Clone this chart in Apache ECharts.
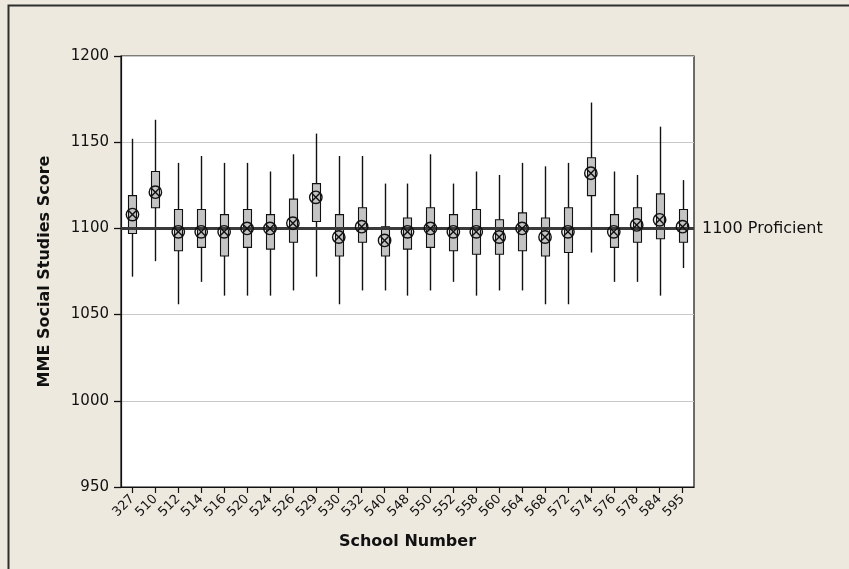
<!DOCTYPE html>
<html>
<head>
<meta charset="utf-8">
<script src="https://cdn.jsdelivr.net/npm/echarts@6/dist/echarts.min.js"></script>
<style>
  html, body { margin: 0; padding: 0; background: #ede9df; }
  #chart { width: 849px; height: 569px; }
</style>
</head>
<body>
<div id="chart"></div>
<script>
// School numbers along the horizontal axis
const schools = ['327','510','512','514','516','520','524','526','529','530','532','540','548',
                 '550','552','558','560','564','568','572','574','576','578','584','595'];

// Whisker ends, box edges and means of the MME Social Studies scores per school
const whiskerLow = [1072,1081,1056,1069,1061,1061,1061,1064,1072,1056,1064,1064,1061,
                    1064,1069,1061,1064,1064,1056,1056,1086,1069,1069,1061,1077];
const boxLow     = [1097,1112,1087,1089,1084,1089,1088,1092,1104,1084,1092,1084,1088,
                    1089,1087,1085,1085,1087,1084,1086,1119,1089,1092,1094,1092];
const boxHigh    = [1119,1133,1111,1111,1108,1111,1108,1117,1126,1108,1112,1101,1106,
                    1112,1108,1111,1105,1109,1106,1112,1141,1108,1112,1120,1111];
const whiskerHigh= [1152,1163,1138,1142,1138,1138,1133,1143,1155,1142,1142,1126,1126,
                    1143,1126,1133,1131,1138,1136,1138,1173,1133,1131,1159,1128];
const means      = [1108,1121,1098,1098,1098,1100,1100,1103,1118,1095,1101,1093,1098,
                    1100,1098,1098,1095,1100,1095,1098,1132,1098,1102,1105,1101];

// Proficiency cut score
const proficientScore = 1100;
const proficientLabel = '1100 Proficient';

const yTicks = { min: 950, max: 1200, interval: 50 };

const boxData = schools.map((s, i) => [i, whiskerLow[i], boxLow[i], boxHigh[i], whiskerHigh[i]]);
const meanData = schools.map((s, i) => [i, means[i]]);

const FONT = 'DejaVu Sans';

function renderBox(params, api) {
  const idx = api.value(0);
  const lo = api.coord([idx, api.value(1)]);
  const q1 = api.coord([idx, api.value(2)]);
  const q3 = api.coord([idx, api.value(3)]);
  const hi = api.coord([idx, api.value(4)]);
  const halfW = 4;
  const x = Math.round(lo[0]) + 0.5;
  return {
    type: 'group',
    children: [
      { type: 'line', shape: { x1: x, y1: hi[1], x2: x, y2: lo[1] },
        style: { stroke: '#111', lineWidth: 1.4 } },
      { type: 'rect', shape: { x: x - halfW, y: q3[1], width: halfW * 2, height: q1[1] - q3[1] },
        style: { fill: '#c4c4c4', stroke: '#111', lineWidth: 1.1 } }
    ]
  };
}

function renderMean(params, api) {
  const p = api.coord([api.value(0), api.value(1)]);
  const r = 6.2, d = 4;
  return {
    type: 'group',
    children: [
      { type: 'circle', shape: { cx: p[0], cy: p[1], r: r },
        style: { fill: 'none', stroke: '#111', lineWidth: 1.4 } },
      { type: 'line', shape: { x1: p[0] - d, y1: p[1] - d, x2: p[0] + d, y2: p[1] + d },
        style: { stroke: '#111', lineWidth: 1.4 } },
      { type: 'line', shape: { x1: p[0] - d, y1: p[1] + d, x2: p[0] + d, y2: p[1] - d },
        style: { stroke: '#111', lineWidth: 1.4 } }
    ]
  };
}

const chart = echarts.init(document.getElementById('chart'), null, { renderer: 'canvas' });

chart.setOption({
  backgroundColor: '#ede9df',
  animation: false,
  textStyle: { fontFamily: FONT },
  graphic: [{
    type: 'rect', silent: true, z: -10,
    shape: { x: 8.5, y: 5.5, width: 900, height: 600 },
    style: { fill: 'none', stroke: '#2e2e2e', lineWidth: 2 }
  }],
  grid: {
    left: 121, top: 56, right: 155, bottom: 82,
    show: true, backgroundColor: '#ffffff', borderColor: '#111', borderWidth: 1.2
  },
  xAxis: {
    type: 'category',
    data: schools,
    boundaryGap: true,
    name: 'School Number',
    nameLocation: 'middle',
    nameGap: 47,
    nameTextStyle: { fontFamily: FONT, fontSize: 16, fontWeight: 'bold', color: '#111' },
    axisLine: { lineStyle: { color: '#111', width: 1.2 } },
    axisTick: { show: true, alignWithLabel: true, length: 6, lineStyle: { color: '#111', width: 1.2 } },
    axisLabel: { rotate: 45, fontSize: 13, color: '#111', margin: 10, interval: 0 },
    splitLine: { show: false }
  },
  yAxis: {
    type: 'value',
    min: yTicks.min, max: yTicks.max, interval: yTicks.interval,
    name: 'MME Social Studies Score',
    nameLocation: 'middle',
    nameGap: 68,
    nameRotate: 90,
    nameTextStyle: { fontFamily: FONT, fontSize: 16, fontWeight: 'bold', color: '#111' },
    axisLine: { show: true, lineStyle: { color: '#111', width: 1.2 } },
    axisTick: { show: true, inside: false, length: 7, lineStyle: { color: '#111', width: 1.3 } },
    axisLabel: { fontSize: 15, color: '#111', margin: 12, formatter: v => String(v) },
    splitLine: { show: true, lineStyle: { color: '#c8c8c8', width: 1.2 } }
  },
  series: [
    {
      type: 'custom',
      name: 'range',
      renderItem: renderBox,
      encode: { x: 0, y: [1, 2, 3, 4] },
      data: boxData,
      z: 2,
      markLine: {
        silent: true,
        symbol: 'none',
        z: 3,
        lineStyle: { color: '#3a3a3a', width: 3, type: 'solid' },
        label: { show: true, position: 'end', formatter: proficientLabel,
                 fontFamily: FONT, fontSize: 16, color: '#111', distance: 8 },
        data: [{ yAxis: proficientScore }]
      }
    },
    {
      type: 'custom',
      name: 'mean',
      renderItem: renderMean,
      encode: { x: 0, y: 1 },
      data: meanData,
      z: 4
    }
  ]
});
</script>
</body>
</html>
